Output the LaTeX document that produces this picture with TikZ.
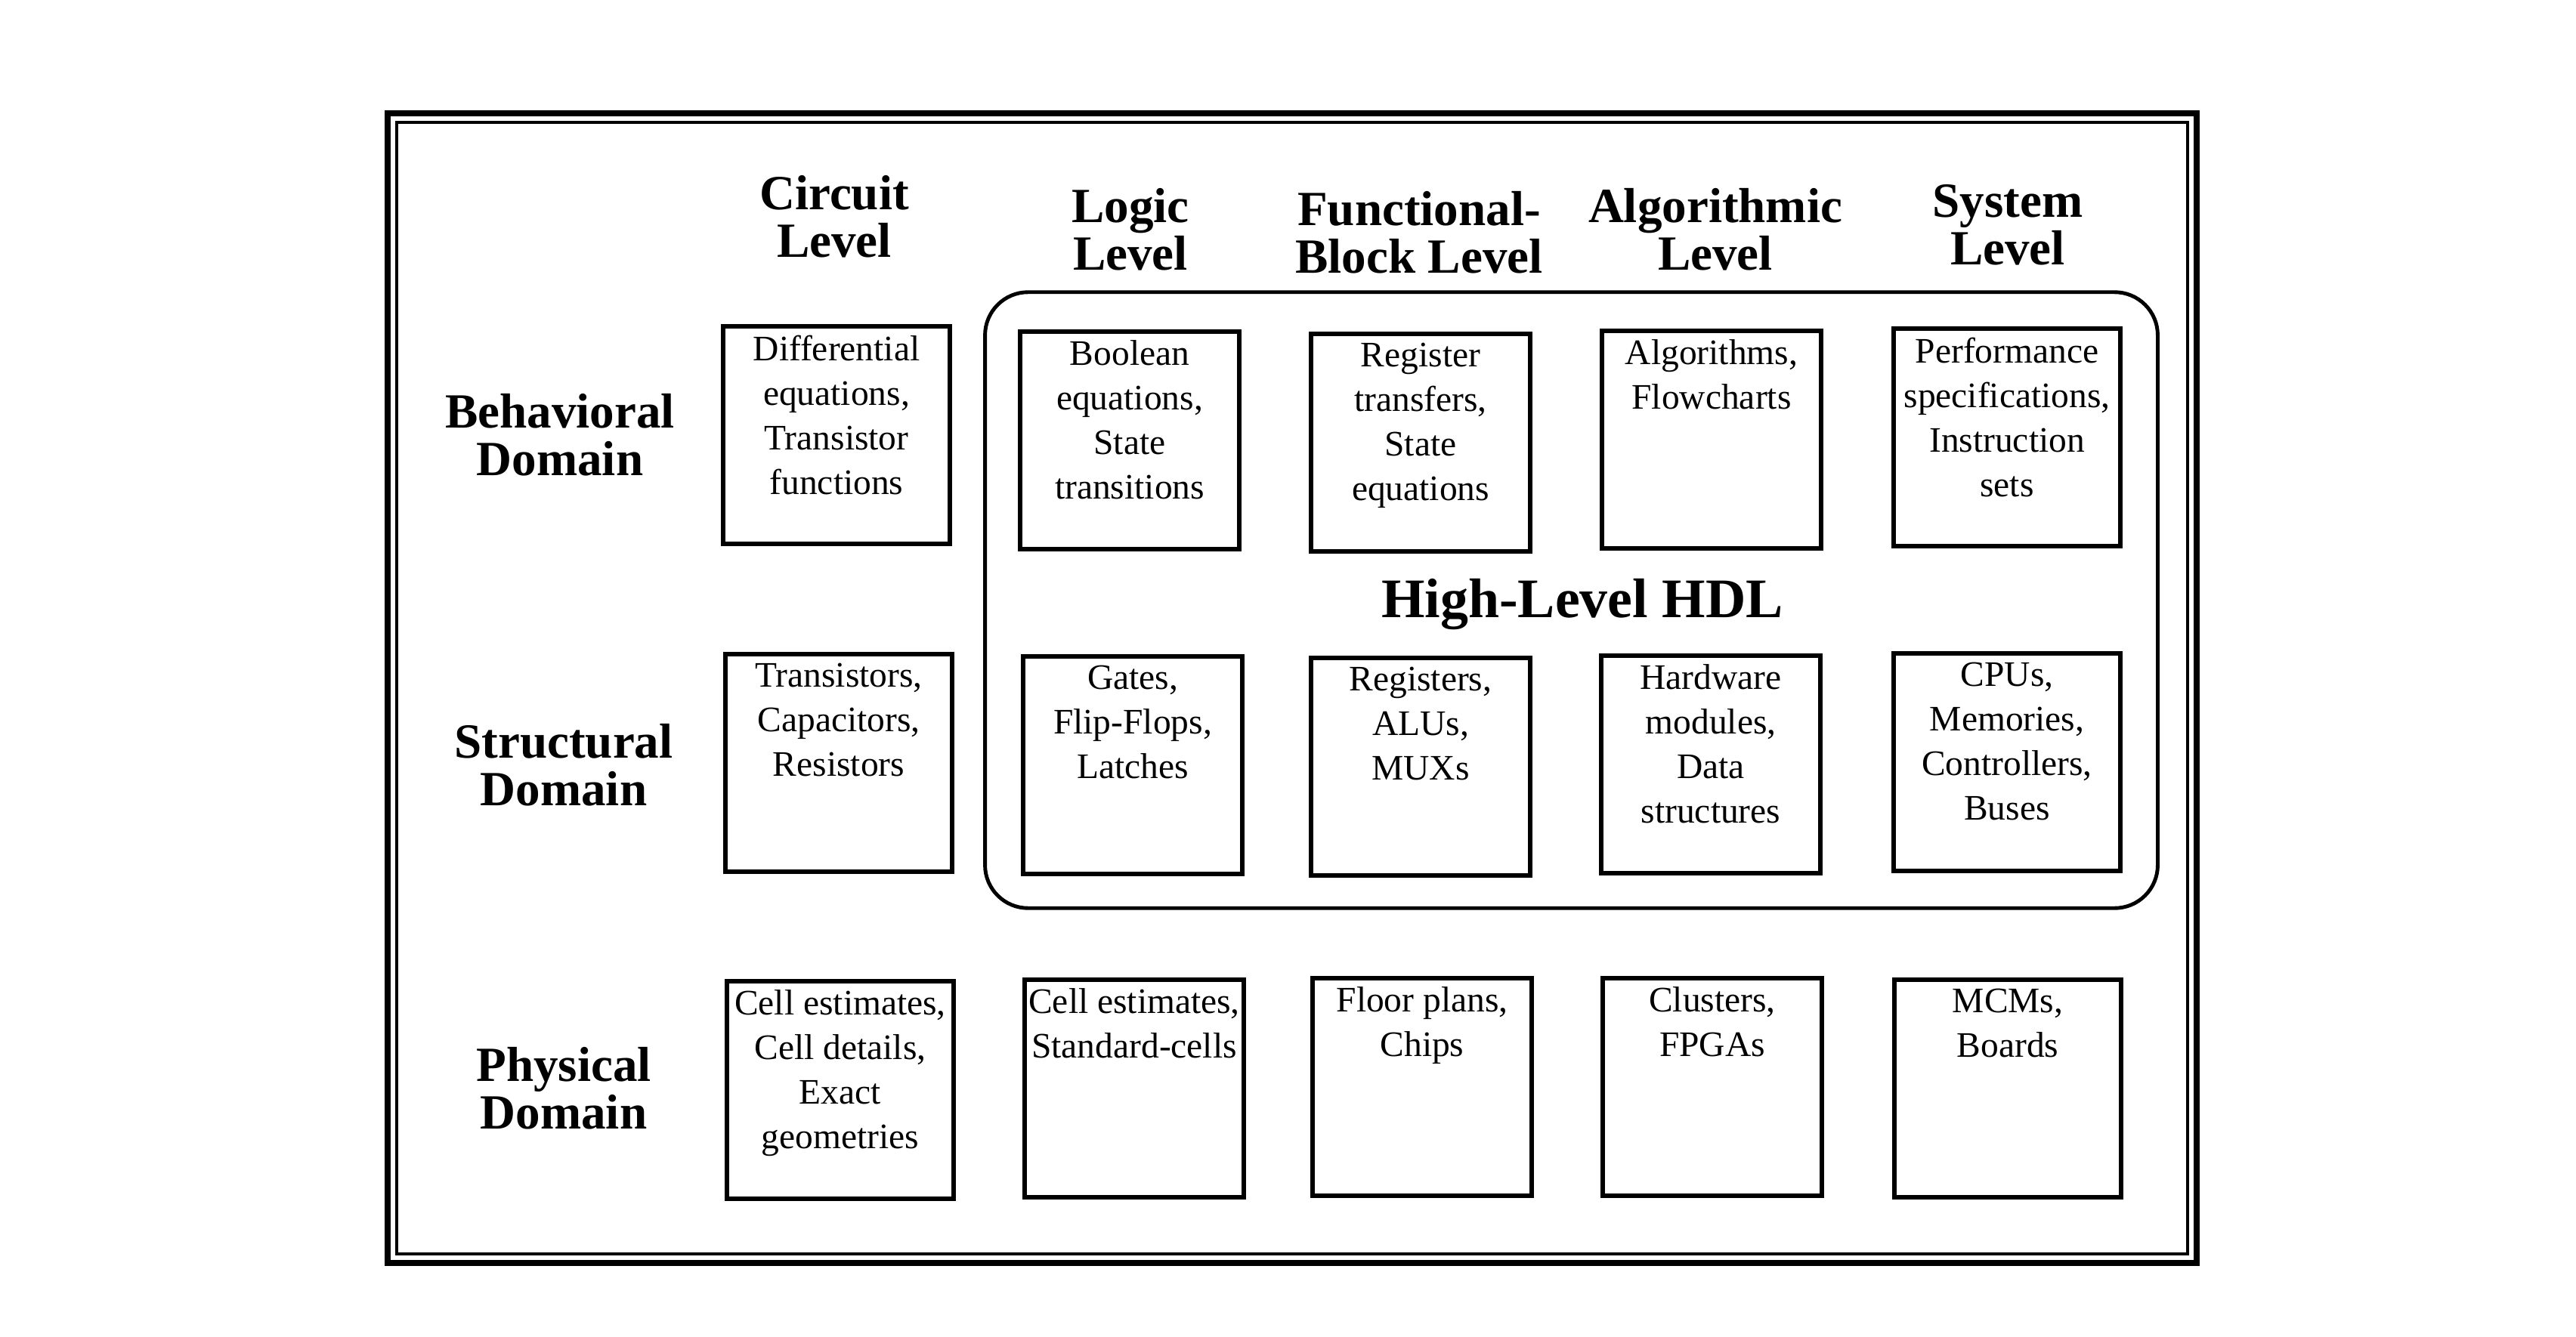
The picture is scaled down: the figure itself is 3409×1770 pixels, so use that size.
\documentclass[tikz,border=0pt]{standalone}
\usepackage{fontspec}
\setmainfont{Liberation Serif}
\begin{document}
\begin{tikzpicture}[x=0.01cm,y=-0.01cm,
  cell/.style={draw, line width=1.7pt, minimum height=2.88cm, inner sep=0pt},
  narrow/.style={cell, minimum width=2.90cm},
  wide/.style={cell, minimum width=3.00cm},
  celltext/.style={anchor=north, align=center, inner sep=0pt,
    font=\fontsize{13.5}{16.8}\selectfont},
  head/.style={align=center, inner sep=0pt,
    font=\fontsize{18.5}{18}\selectfont\bfseries},
  region/.style={draw, line width=1.4pt, rounded corners=0.57cm, inner sep=0pt}
]
\useasboundingbox (0,0) rectangle (3409,1770);

% double frame
\draw[line width=2.3pt] (513,150) rectangle (2907,1672);
\draw[line width=1.1pt] (525,162) rectangle (2895,1660);

% column headers
\node[head] (hC) at (1104,287) {Circuit\\Level};
\node[head] (hL) at (1496,304) {Logic\\Level};
\node[head] (hF) at (1878,308) {Functional-\\Block Level};
\node[head] (hA) at (2270,304) {Algorithmic\\Level};
\node[head] (hS) at (2657,298) {System\\Level};

% row headers
\node[head] (rB) at (741,576) {Behavioral\\Domain};
\node[head] (rS) at (746,1013) {Structural\\Domain};
\node[head] (rP) at (746,1441) {Physical\\Domain};

% high-level HDL region
\node[region, minimum width=15.51cm, minimum height=8.15cm] (hdl) at (2079.5,794.5) {};
\node[font=\fontsize{21}{21}\selectfont\bfseries, inner sep=0pt] (hdltext) at (2094,800) {High-Level HDL};

% behavioral row
\node[wide]   (b1) at (1107,576) {};
\node[narrow] (b2) at (1495,583) {};
\node[narrow] (b3) at (1880,586) {};
\node[narrow] (b4) at (2265,582) {};
\node[wide]   (b5) at (2656,579) {};

% structural row
\node[wide]   (s1) at (1110,1010) {};
\node[narrow] (s2) at (1499,1013) {};
\node[narrow] (s3) at (1880,1015) {};
\node[narrow] (s4) at (2264,1012) {};
\node[wide]   (s5) at (2656,1009) {};

% physical row
\node[wide]   (p1) at (1112,1443) {};
\node[narrow] (p2) at (1501,1441) {};
\node[narrow] (p3) at (1882,1439) {};
\node[narrow] (p4) at (2266,1439) {};
\node[wide]   (p5) at (2657,1441) {};

% cell contents
\node[celltext] (tb1) at ([yshift=-0.14cm]b1.north) {Differential\\equations,\\Transistor\\functions};
\node[celltext] (tb2) at ([yshift=-0.14cm]b2.north) {Boolean\\equations,\\State\\transitions};
\node[celltext] (tb3) at ([yshift=-0.14cm]b3.north) {Register\\transfers,\\State\\equations};
\node[celltext] (tb4) at ([yshift=-0.14cm]b4.north) {Algorithms,\\Flowcharts};
\node[celltext] (tb5) at ([yshift=-0.14cm]b5.north) {Performance\\specifications,\\Instruction\\sets};

\node[celltext] (ts1) at ([yshift=-0.14cm]s1.north) {Transistors,\\Capacitors,\\Resistors};
\node[celltext] (ts2) at ([yshift=-0.14cm]s2.north) {Gates,\\Flip-Flops,\\Latches};
\node[celltext] (ts3) at ([yshift=-0.14cm]s3.north) {Registers,\\ALUs,\\MUXs};
\node[celltext] (ts4) at ([yshift=-0.14cm]s4.north) {Hardware\\modules,\\Data\\structures};
\node[celltext] (ts5) at ([yshift=-0.14cm]s5.north) {CPUs,\\Memories,\\Controllers,\\Buses};

\node[celltext] (tp1) at ([yshift=-0.14cm]p1.north) {Cell estimates,\\Cell details,\\Exact\\geometries};
\node[celltext] (tp2) at ([yshift=-0.14cm]p2.north) {Cell estimates,\\Standard-cells};
\node[celltext] (tp3) at ([yshift=-0.14cm]p3.north) {Floor plans,\\Chips};
\node[celltext] (tp4) at ([yshift=-0.14cm]p4.north) {Clusters,\\FPGAs};
\node[celltext] (tp5) at ([yshift=-0.14cm]p5.north) {MCMs,\\Boards};
\end{tikzpicture}
\end{document}
